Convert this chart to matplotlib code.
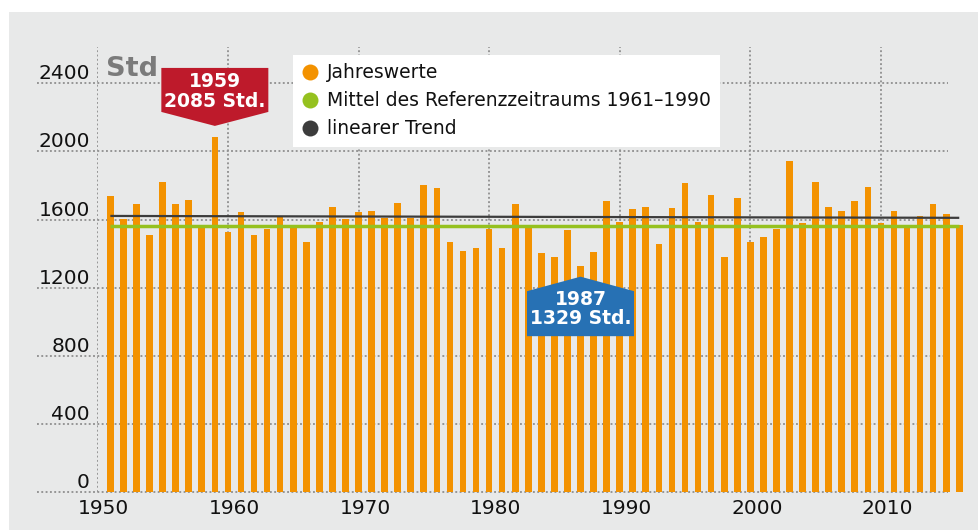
import numpy as np
import matplotlib
matplotlib.use("Agg")
import matplotlib.pyplot as plt
import matplotlib.transforms as mtransforms
from matplotlib.patches import Polygon, Rectangle
from matplotlib.lines import Line2D

plt.rcParams['font.family'] = ['DejaVu Sans']

# ---- data ----
years = list(range(1951, 2017))
hours = [1736, 1605, 1691, 1509, 1820, 1693, 1715, 1560, 2085, 1527,
         1646, 1509, 1542, 1613, 1560, 1467, 1585, 1674, 1605, 1644,
         1648, 1610, 1697, 1610, 1803, 1785, 1466, 1415, 1431, 1544,
         1431, 1690, 1562, 1403, 1380, 1536, 1329, 1407, 1709, 1587,
         1662, 1672, 1456, 1670, 1814, 1585, 1742, 1378, 1726, 1470,
         1497, 1546, 1946, 1580, 1820, 1674, 1652, 1709, 1791, 1578,
         1650, 1555, 1620, 1689, 1634, 1570]
ref_mean = 1564
trend_start = 1621
trend_end = 1610
xticks = [1950, 1960, 1970, 1980, 1990, 2000, 2010]
yticks = [0, 400, 800, 1200, 1600, 2000, 2400]
legend_labels = ["Jahreswerte", "Mittel des Referenzzeitraums 1961–1990", "linearer Trend"]
max_label = ["1959", "2085 Std."]
min_label = ["1987", "1329 Std."]
max_year, max_val = 1959, 2085
min_year, min_val = 1987, 1329

ORANGE = '#f39200'
GREEN = '#95c11f'
DARK = '#3c3c3c'
RED = '#be1a2b'
BLUE = '#2771b4'
BG = '#e8e9e9'
GRID = '#929292'

W, H = 979, 530
fig = plt.figure(figsize=(W / 100, H / 100), dpi=100)
fig.patch.set_facecolor('white')
fig.add_artist(Rectangle((9 / W, 0), 1 - 9 / W, 1 - 12 / H, transform=fig.transFigure,
                         facecolor=BG, edgecolor='none', zorder=-10))

L, R, T, B = 97.3, 979, 47, 492
pxyear = 13.06
pxval = 0.1703
ax = fig.add_axes([L / W, 1 - B / H, (R - L) / W, (B - T) / H])
ax.patch.set_alpha(0)
ax.set_xlim(1950, 1950 + (R - L) / pxyear)
ax.set_ylim(0, (B - T) / pxval)
for s in ax.spines.values():
    s.set_visible(False)

dot = (0, (1, 1.3))
# horizontal gridlines
for v in yticks:
    ax.axhline(v, xmin=(37 - L) / (R - L), xmax=(948 - L) / (R - L), color=GRID,
               lw=1.35, linestyle=dot, clip_on=False, zorder=0)
# vertical gridlines
for x in xticks:
    ax.axvline(x, color=GRID, lw=1.35, linestyle=dot, zorder=0)

ax.bar(years, hours, width=0.51, color=ORANGE, zorder=2)
ax.plot([years[0], years[-1]], [ref_mean, ref_mean], color=GREEN, lw=2.5, zorder=3,
        solid_capstyle='butt')
ax.plot([years[0], years[-1]], [trend_start, trend_end], color=DARK, lw=1.6, zorder=4,
        solid_capstyle='butt')

# ticks
ax.set_xticks(xticks)
ax.set_xticklabels([str(x) for x in xticks])
ax.tick_params(axis='x', length=0, pad=5, labelsize=14.5, labelcolor='#111111')
off = mtransforms.ScaledTranslation(6.5 / 100, 0, fig.dpi_scale_trans)
for lab in ax.get_xticklabels():
    lab.set_transform(lab.get_transform() + off)
ax.set_yticks(yticks)
ax.set_yticklabels([str(v) for v in yticks])
ax.tick_params(axis='y', length=0, pad=(L - 90) * 0.72, labelsize=14.5, labelcolor='#111111')
for lab in ax.get_yticklabels():
    lab.set_verticalalignment('bottom')

fig.text(106 / W, 1 - 69 / H, 'Std', ha='left', va='center', fontsize=19.5,
         fontweight='bold', color='#7b7b7b')

# annotation boxes (vertices in pixels relative to bar top)
def callout(year, val, verts, lines, ys, color):
    tr = mtransforms.Affine2D().scale(1 / 100) + fig.dpi_scale_trans + \
        mtransforms.ScaledTranslation(year, val, ax.transData)
    poly = Polygon(verts, closed=True, transform=tr, facecolor=color, edgecolor='none',
                   zorder=6, clip_on=False)
    ax.add_patch(poly)
    for t, y in zip(lines, ys):
        ax.text(0, y, t, transform=tr, ha='center', va='center', color='white',
                fontsize=13.5, fontweight='bold', zorder=7)

callout(max_year, max_val,
        [(0, 11), (53.5, 25), (53.5, 69), (-53.5, 69), (-53.5, 25)],
        max_label, [55, 35], RED)
callout(min_year, min_val,
        [(0, -11), (53.5, -25.5), (53.5, -70.5), (-53.5, -70.5), (-53.5, -25.5)],
        min_label, [-33.5, -52.5], BLUE)

handles = [Line2D([], [], linestyle='none', marker='o', markersize=11.5,
                  markerfacecolor=c, markeredgecolor='none') for c in (ORANGE, GREEN, DARK)]
leg = ax.legend(handles, legend_labels, loc='upper left',
                bbox_to_anchor=(292.7 / W, 1 - 55 / H), bbox_transform=fig.transFigure,
                borderaxespad=0, frameon=True, fancybox=False, framealpha=1,
                facecolor='white', edgecolor='none', fontsize=13.5,
                handlelength=0.9, handletextpad=0.5, labelspacing=0.48, borderpad=0.45)
leg.set_zorder(8)
for t in leg.get_texts():
    t.set_color('#111111')

fig.savefig('out.png', dpi=100)
